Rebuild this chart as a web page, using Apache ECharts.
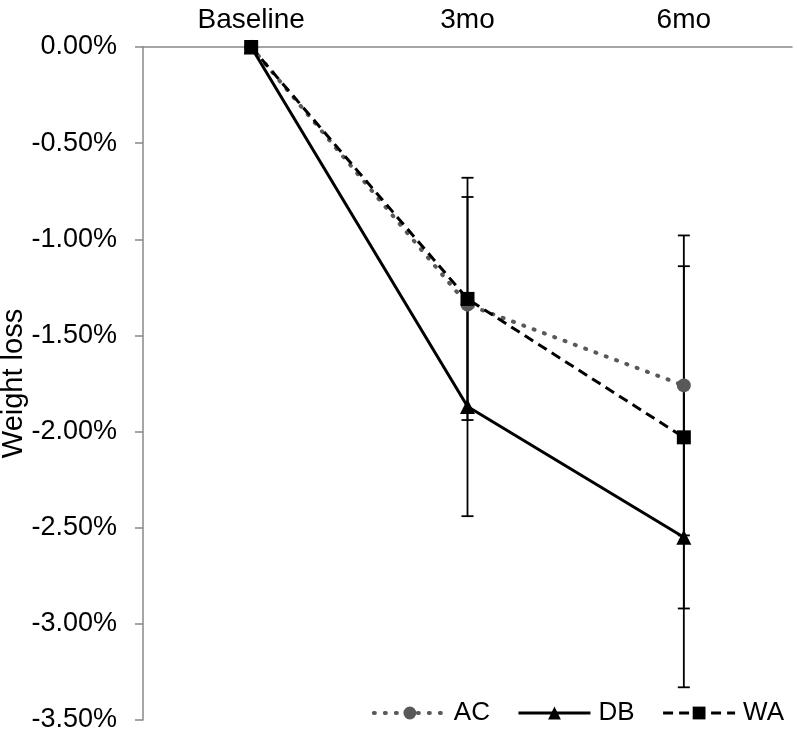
<!DOCTYPE html>
<html><head><meta charset="utf-8">
<script src="https://cdn.jsdelivr.net/npm/echarts@6/dist/echarts.min.js"></script>
<style>html,body{margin:0;padding:0;background:#fff}#c{width:797px;height:735px}</style>
</head><body><div id="c"></div>
<script>
const categories = ['Baseline', '3mo', '6mo'];
const acValues = [0, -1.34, -1.76];
const dbValues = [0, -1.87, -2.55];
const waValues = [0, -1.31, -2.03];
const acErr = [0, 0.56, 0.78];
const dbErr = [0, 0.57, 0.78];
const waErr = [0, 0.63, 0.89];
const yTicks = [0, -0.5, -1, -1.5, -2, -2.5, -3, -3.5];

function errData(vals, errs) {
  return vals.map((v, i) => [i, v - errs[i], v + errs[i]]).filter((d, i) => errs[i] > 0);
}
const errAll = [].concat(errData(acValues, acErr), errData(dbValues, dbErr), errData(waValues, waErr));

const chart = echarts.init(document.getElementById('c'));
const font = 'Liberation Sans, Arial, sans-serif';
const acLine = { color: '#595959', width: 4, type: [1, 10], cap: 'round' };
const dbLine = { color: '#000', width: 3, type: 'solid' };
const waLine = { color: '#000', width: 3, type: [10, 6] };
chart.setOption({
  animation: false,
  grid: { left: 143, right: 5, top: 47, bottom: 15, outerBoundsMode: 'none', containLabel: false },
  legend: {
    right: 8, top: 695,
    itemWidth: 72, itemHeight: 16, itemGap: 27,
    textStyle: { fontSize: 26, fontFamily: font, color: '#000', padding: [0, 0, 0, 3] },
    data: [
      { name: 'AC', lineStyle: acLine },
      { name: 'DB', lineStyle: dbLine },
      { name: 'WA', lineStyle: waLine }
    ]
  },
  xAxis: {
    type: 'category', data: categories, position: 'top', boundaryGap: true,
    axisLine: { lineStyle: { color: '#888', width: 1.5 } },
    axisTick: { inside: true, length: 6, lineStyle: { color: '#888', width: 1.5 } },
    axisLabel: { fontSize: 28, fontFamily: font, color: '#000', margin: 13 }
  },
  yAxis: {
    type: 'value', min: -3.5, max: 0, interval: 0.5,
    name: 'Weight loss', nameLocation: 'middle', nameGap: 115, nameRotate: 90,
    nameMoveOverlap: false,
    nameTextStyle: { fontSize: 29, fontFamily: font, color: '#000' },
    axisLine: { show: true, lineStyle: { color: '#888', width: 1.5 } },
    axisTick: { show: true, length: 8, lineStyle: { color: '#888', width: 1.5 } },
    splitLine: { show: false },
    axisLabel: { fontSize: 27, fontFamily: font, color: '#000', margin: 26,
      formatter: v => v.toFixed(2) + '%' }
  },
  series: [
    {
      type: 'custom', name: 'err', z: 1, silent: true,
      renderItem: function (params, api) {
        const x = api.value(0);
        const lo = api.coord([x, api.value(1)]);
        const hi = api.coord([x, api.value(2)]);
        const w = 6;
        const st = { stroke: '#000', lineWidth: 1.8 };
        return { type: 'group', children: [
          { type: 'line', shape: { x1: lo[0], y1: lo[1], x2: hi[0], y2: hi[1] }, style: st },
          { type: 'line', shape: { x1: lo[0] - w, y1: lo[1], x2: lo[0] + w, y2: lo[1] }, style: st },
          { type: 'line', shape: { x1: hi[0] - w, y1: hi[1], x2: hi[0] + w, y2: hi[1] }, style: st }
        ]};
      },
      encode: { x: 0, y: [1, 2] },
      data: errAll
    },
    {
      name: 'AC', type: 'line', data: acValues, z: 3,
      symbol: 'circle', symbolSize: 14,
      lineStyle: acLine,
      itemStyle: { color: '#595959' }
    },
    {
      name: 'DB', type: 'line', data: dbValues, z: 4,
      symbol: 'triangle', symbolSize: 15,
      lineStyle: dbLine,
      itemStyle: { color: '#000' }
    },
    {
      name: 'WA', type: 'line', data: waValues, z: 5,
      symbol: 'rect', symbolSize: 14,
      lineStyle: waLine,
      itemStyle: { color: '#000' }
    }
  ]
});
</script></body></html>
